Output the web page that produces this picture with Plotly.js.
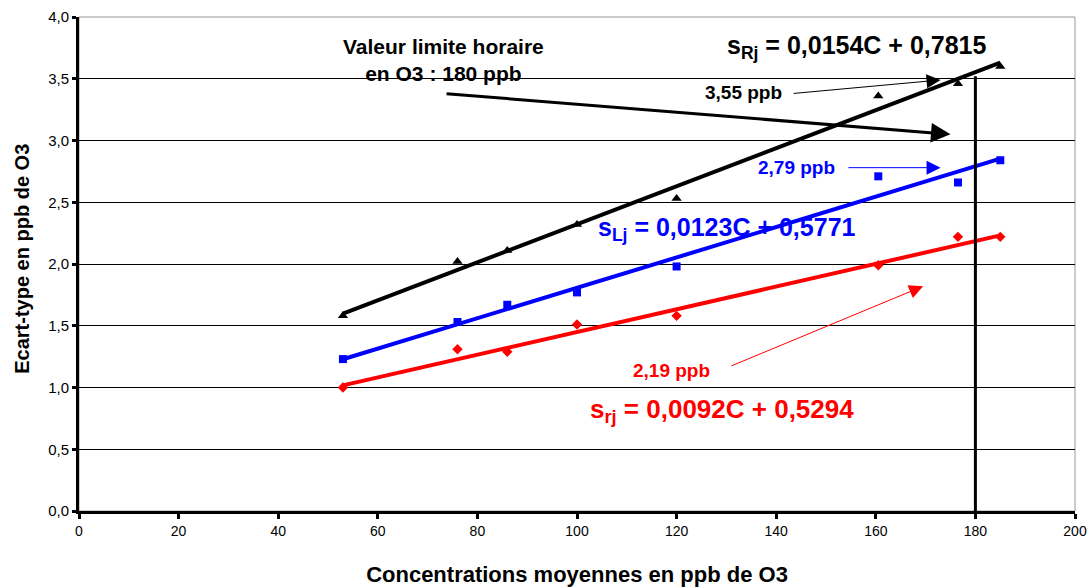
<!DOCTYPE html>
<html>
<head>
<meta charset="utf-8">
<script src="https://cdn.plot.ly/plotly-3.0.1.min.js"></script>
<style>html,body{margin:0;padding:0;background:#fff;}#chart{width:1087px;height:587px;}</style>
</head>
<body>
<div id="chart"></div>
<script>
// Concentrations (ppb O3)
const concentrations = [53, 76, 86, 100, 120, 160.5, 176.5, 185];
// Standard deviations
const sRj = [1.58, 2.02, 2.11, 2.32, 2.53, 3.36, 3.46, 3.60];
const sLj = [1.23, 1.53, 1.67, 1.77, 1.98, 2.71, 2.66, 2.84];
const srj = [1.00, 1.31, 1.29, 1.51, 1.58, 1.99, 2.22, 2.22];
// Trendline coefficients shown on chart
const slopes = {R: 0.0154, L: 0.0123, r: 0.0092};
const intercepts = {R: 0.7815, L: 0.5771, r: 0.5294};
const trendRange = [53, 185];
// Limit value
const limitX = 180;
const limitY = 3.52;
const yTicks = [0, 0.5, 1, 1.5, 2, 2.5, 3, 3.5, 4];
const xTicks = [0, 20, 40, 60, 80, 100, 120, 140, 160, 180, 200];

const FONT = '"Liberation Sans", Arial, sans-serif';
function trend(k){ return trendRange.map(x => slopes[k]*x + intercepts[k]); }

const traces = [
  {x: trendRange, y: trend('R'), mode: 'lines', line: {color: '#000', width: 4}, hoverinfo: 'skip'},
  {x: trendRange, y: trend('L'), mode: 'lines', line: {color: '#0000ff', width: 4}, hoverinfo: 'skip'},
  {x: trendRange, y: trend('r'), mode: 'lines', line: {color: '#ff0000', width: 4}, hoverinfo: 'skip'},
  {x: concentrations, y: sRj, mode: 'markers', marker: {symbol: 'triangle-up', size: 9, color: '#000'}},
  {x: concentrations, y: sLj, mode: 'markers', marker: {symbol: 'square', size: 8, color: '#0000ff'}},
  {x: concentrations, y: srj, mode: 'markers', marker: {symbol: 'diamond', size: 8, color: '#ff0000'}},
  {x: [limitX, limitX], y: [0, limitY], mode: 'lines', line: {color: '#000', width: 3}, hoverinfo: 'skip'}
];

function arrow(x, y, ax, ay, color, width, size){
  return {x: x, y: y, ax: ax, ay: ay, xref: 'x', yref: 'y', axref: 'x', ayref: 'y',
    text: '', showarrow: true, arrowhead: 2, arrowsize: size, arrowwidth: width, arrowcolor: color};
}
function label(x, y, text, color, size){
  return {x: x, y: y, xref: 'x', yref: 'y', text: text, showarrow: false,
    font: {family: FONT, size: size, color: color}, xanchor: 'center', yanchor: 'middle', align: 'center'};
}

const annotations = [
  label(73.1, 3.655, '<b>Valeur limite horaire<br>en O3 : 180 ppb</b>', '#000', 21),
  arrow(175, 3.05, 73.5, 3.38, '#000', 3, 1.3),
  label(156.2, 3.76, '<b>s<sub>Rj</sub> = 0,0154C + 0,7815</b>', '#000', 25),
  label(133.5, 3.385, '<b>3,55 ppb</b>', '#000', 19),
  arrow(173, 3.49, 143.2, 3.38, '#000', 1, 2.8),
  label(144, 2.785, '<b>2,79 ppb</b>', '#0000ff', 19),
  arrow(173, 2.78, 154.2, 2.78, '#0000ff', 1, 2.8),
  label(130.1, 2.285, '<b>s<sub>Lj</sub> = 0,0123C + 0,5771</b>', '#0000ff', 25),
  label(118.9, 1.134, '<b>2,19 ppb</b>', '#ff0000', 19),
  arrow(169.5, 1.82, 130.7, 1.17, '#ff0000', 1, 2.8),
  label(129.1, 0.81, '<b>s<sub>rj</sub> = 0,0092C + 0,5294</b>', '#ff0000', 26),
  {x: -0.0575, y: 0.51, xref: 'paper', yref: 'paper', text: '<b>Ecart-type en ppb de O3</b>', showarrow: false,
   textangle: -90, xanchor: 'center', yanchor: 'middle', font: {family: FONT, size: 20, color: '#000'}}
];

const layout = {
  width: 1087, height: 587,
  margin: {l: 79, r: 12, t: 17, b: 76},
  paper_bgcolor: '#fff', plot_bgcolor: '#fff',
  showlegend: false,
  font: {family: FONT, size: 15, color: '#000'},
  xaxis: {
    range: [0, 200], tickvals: xTicks, ticktext: xTicks.map(String),
    showgrid: false, zeroline: false, showline: true, linecolor: '#000', linewidth: 3,
    ticks: 'outside', ticklen: 5, tickwidth: 3, tickcolor: '#000',
    tickfont: {family: FONT, size: 14, color: '#000'},
    title: {text: '<b>Concentrations moyennes en ppb de O3</b>', font: {family: FONT, size: 22, color: '#000'}, standoff: 29}
  },
  yaxis: {
    range: [0, 4], tickvals: yTicks, ticktext: yTicks.map(v => v.toFixed(1).replace('.', ',')),
    showgrid: true, gridcolor: '#000', gridwidth: 1, zeroline: false,
    showline: true, linecolor: '#000', linewidth: 3,
    ticks: 'outside', ticklen: 4, tickwidth: 3, tickcolor: '#000',
    tickfont: {family: FONT, size: 15, color: '#000'}
  },
  shapes: [
    {type: 'rect', xref: 'paper', yref: 'paper', x0: 0, x1: 1, y0: 0, y1: 1, line: {color: '#999', width: 1}, layer: 'below'}
  ],
  annotations: annotations
};

Plotly.newPlot('chart', traces, layout, {displayModeBar: false, staticPlot: true});
</script>
</body>
</html>
